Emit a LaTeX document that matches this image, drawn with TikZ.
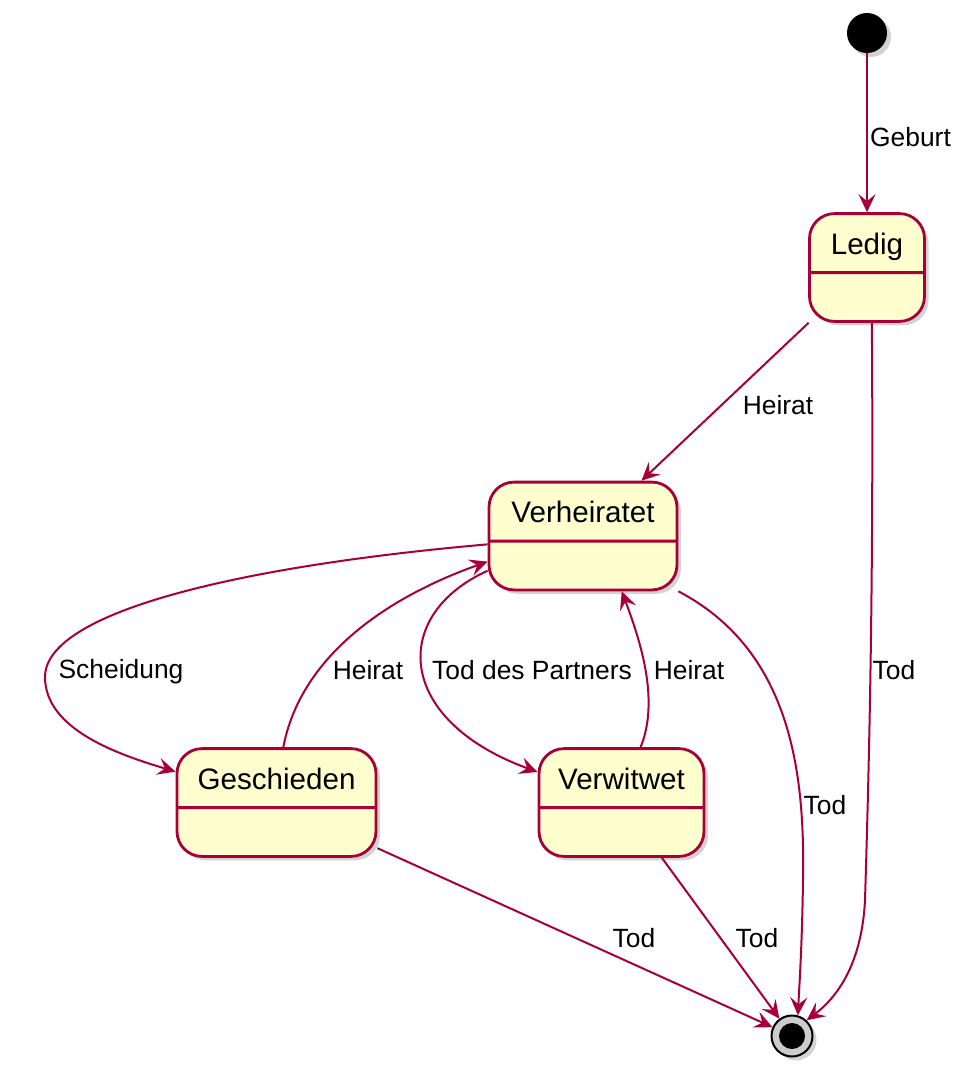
\documentclass[tikz,border=0pt]{standalone}
\usepackage{fontspec}
\setmainfont{Liberation Sans}
\usetikzlibrary{shapes.multipart,shadows,arrows.meta}
\definecolor{umlred}{HTML}{A80036}
\definecolor{umlfill}{HTML}{FEFECE}

\begin{document}
\begin{tikzpicture}[x=0.5pt,y=-0.5pt,
  state/.style={rectangle split, rectangle split parts=2, draw=umlred, line width=1.4pt,
    fill=umlfill, rounded corners=12.5pt, font=\fontsize{14.8}{17}\selectfont,
    text height=16.6pt, text depth=5.5pt, inner ysep=3pt,
    rectangle split empty part height=17pt, rectangle split empty part depth=0pt,
    drop shadow={shadow xshift=2pt, shadow yshift=-2pt, opacity=0.35}},
  trans/.style={draw=umlred, line width=1pt, -{Stealth[length=9pt, width=8.5pt, inset=3.5pt]}},
  lbl/.style={inner sep=0pt, anchor=base, font=\fontsize{13.2}{15}\selectfont}]
\useasboundingbox (0,0) rectangle (965,1081);

% start and end
\node [circle, fill=black, minimum size=20pt, inner sep=0pt,
  drop shadow={shadow xshift=2pt, shadow yshift=-2pt, opacity=0.35}] (ini) at (867,33) {};
\node [circle, draw=black, line width=1pt, fill=black!20, minimum size=20.5pt, inner sep=0pt,
  drop shadow={shadow xshift=2pt, shadow yshift=-2pt, opacity=0.35},
  path picture={\fill[black] (path picture bounding box.center) circle (6.5pt);}] (fin) at (792,1036) {};

% states
\node [state, minimum width=57.5pt] (led) at (867,267.5) {Ledig \nodepart{two}};
\node [state, minimum width=94pt] (ver) at (583,536) {Verheiratet \nodepart{two}};
\node [state, minimum width=99.5pt] (ges) at (276.5,802.5) {Geschieden \nodepart{two}};
\node [state, minimum width=82.5pt] (wit) at (621.5,802.5) {Verwitwet \nodepart{two}};

% transitions
\draw [trans] (ini) -- (led);
\draw [trans] (led) -- (ver);
\draw [trans] (led.275) .. controls (874,600) and (868,800) .. (865,900)
  .. controls (862,960) and (840,995) .. (fin.47);
\draw [trans] (ver.185) .. controls (250,565) and (45,610) .. (45,677)
  .. controls (45,730) and (120,755) .. (ges.163);
\draw [trans] (ges.83) .. controls (300,660) and (380,600) .. (ver.195);
\draw [trans] (ver.200) .. controls (390,615) and (395,720) .. (wit.160);
\draw [trans] (wit.71) .. controls (660,700) and (640,640) .. (ver.305);
\draw [trans] (ver.south east) .. controls (790,650) and (805,770) .. (803,880)
  .. controls (802,950) and (799,990) .. (fin.74);
\draw [trans] (ges) -- (fin);
\draw [trans] (wit) -- (fin);

% labels
\node [lbl] (l1) at (910.5,147) {Geburt};
\node [lbl] (l2) at (778,414) {Heirat};
\node [lbl] (l3) at (894,679) {Tod};
\node [lbl] (l4) at (121,678) {Scheidung};
\node [lbl] (l5) at (368,679) {Heirat};
\node [lbl] (l6) at (532,679) {Tod des Partners};
\node [lbl] (l7) at (689,679) {Heirat};
\node [lbl] (l8) at (825,814) {Tod};
\node [lbl] (l9) at (634,947) {Tod};
\node [lbl] (l10) at (757,947) {Tod};
\end{tikzpicture}
\end{document}
